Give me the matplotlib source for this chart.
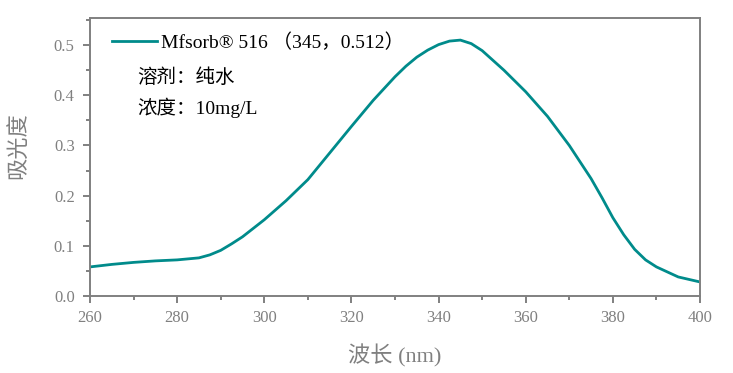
import matplotlib
matplotlib.use("Agg")
import matplotlib.pyplot as plt
from matplotlib.ticker import MultipleLocator

plt.rcParams['font.family'] = ['Liberation Serif', 'Noto Sans CJK SC', 'DejaVu Sans']

# spectrum
wavelength = [260, 265, 270, 275, 280, 285, 287.5, 290, 292.5, 295, 300, 305,
              310, 315, 320, 325, 330, 332.5, 335, 337.5, 340, 342.5, 345,
              347.5, 350, 355, 360, 365, 370, 372.5, 375, 377.5, 380, 382.5,
              385, 387.5, 390, 395, 400]
absorbance = [0.058, 0.063, 0.067, 0.070, 0.072, 0.076, 0.082, 0.091, 0.104,
              0.118, 0.152, 0.190, 0.232, 0.285, 0.338, 0.390, 0.437, 0.458,
              0.476, 0.490, 0.501, 0.508, 0.510, 0.503, 0.489, 0.450, 0.407,
              0.358, 0.300, 0.267, 0.234, 0.196, 0.156, 0.122, 0.093, 0.072,
              0.058, 0.038, 0.028]
series_label = "Mfsorb® 516 （345，0.512）"
notes = ["溶剂：纯水", "浓度：10mg/L"]

gray = "#808080"
teal = "#008B8B"

fig = plt.figure(figsize=(7.33, 3.73), dpi=100)
ax = fig.add_axes([0.1228, 0.2064, 0.8322, 0.7453])

ax.plot(wavelength, absorbance, color=teal, lw=2.0, label=series_label)

ax.set_xlim(260, 400)
ax.set_ylim(0, 0.554)
ax.xaxis.set_major_locator(MultipleLocator(20))
ax.xaxis.set_minor_locator(MultipleLocator(10))
ax.yaxis.set_major_locator(MultipleLocator(0.1))
ax.yaxis.set_minor_locator(MultipleLocator(0.05))
ax.yaxis.set_major_formatter(lambda v, p: f"{v:.1f}")

for s in ax.spines.values():
    s.set_color(gray)
    s.set_linewidth(1.4)
ax.tick_params(which='both', direction='out', color=gray, width=1.4,
               labelcolor=gray, labelsize=12, top=False, right=False)
ax.tick_params(which='major', length=5)
ax.tick_params(axis='x', which='major', pad=5)
ax.tick_params(axis='y', which='major', pad=6)
ax.tick_params(which='minor', length=3)

ax.set_xlabel("波长 (nm)", color=gray, fontsize=16)
ax.set_ylabel("吸光度", color=gray, fontsize=16)
ax.xaxis.set_label_coords(0.5, -0.175)
ax.yaxis.set_label_coords(-0.1, 0.54)

ax.legend(loc='upper left', frameon=False, fontsize=14,
          handlelength=2.3, handletextpad=0.2,
          bbox_to_anchor=(0.008, 1.008))
ax.text(0.078, 0.785, notes[0], transform=ax.transAxes, fontsize=14,
        va='center')
ax.text(0.078, 0.677, notes[1], transform=ax.transAxes, fontsize=14,
        va='center')

fig.savefig("out.png", dpi=100)
